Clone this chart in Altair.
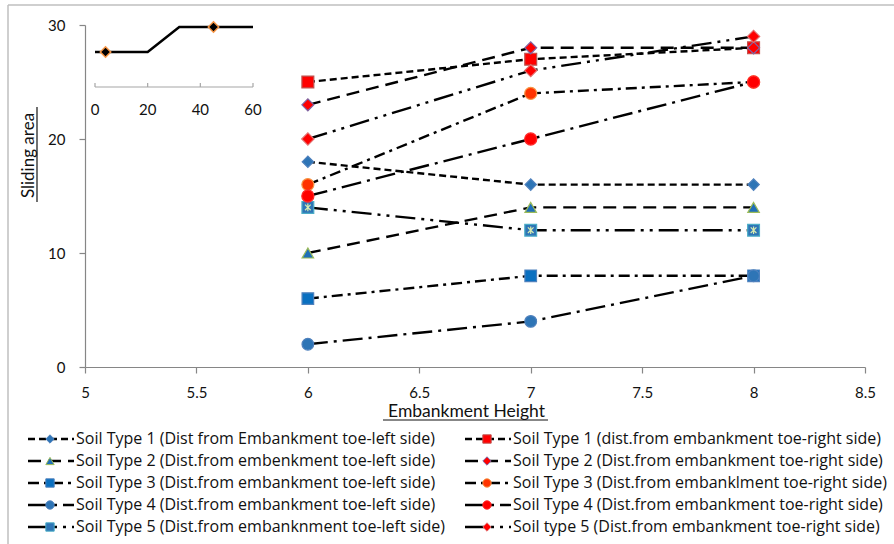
import altair as alt
import pandas as pd

# ---------------- data ----------------
heights = [6, 7, 8]
series = [
    "Soil Type 1 (Dist from Embankment toe-left side)",
    "Soil Type 2 (Dist.from embenkment toe-left side)",
    "Soil Type 3 (Dist.from embankment toe-left side)",
    "Soil Type 4 (Dist.from embankment toe-left side)",
    "Soil Type 5 (Dist.from embanknment toe-left side)",
    "Soil Type 1 (dist.from embankment toe-right side)",
    "Soil Type 2 (Dist.from embankment toe-right side)",
    "Soil Type 3 (Dist.from embanklment toe-right side)",
    "Soil Type 4 (Dist.from embankment toe-right side)",
    "Soil type 5 (Dist.from embankment toe-right side)",
]
values = [
    [18, 16, 16],
    [10, 14, 14],
    [6, 8, 8],
    [2, 4, 8],
    [14, 12, 12],
    [25, 27, 28],
    [23, 28, 28],
    [16, 24, 25],
    [15, 20, 25],
    [20, 26, 29],
]
legend_col = [0, 0, 0, 0, 0, 1, 1, 1, 1, 1]
legend_row = [0, 1, 2, 3, 4, 0, 1, 2, 3, 4]

x_ticks = [5, 5.5, 6, 6.5, 7, 7.5, 8, 8.5]
y_ticks = [0, 10, 20, 30]

# inset chart
inset_x = [0, 20, 32, 60]
inset_y = [3.5, 3.5, 6, 6]
inset_mark_x = [4, 45]
inset_mark_y = [3.5, 6]
inset_ticks = [0, 20, 40, 60]

# ---------------- styles ----------------
dashes = [
    [7, 4], [13, 7], [11, 5, 3, 5], [20, 6, 3, 6], [20, 6, 3, 6, 3, 6],
    [7, 4], [13, 7], [11, 5, 3, 5], [20, 6, 3, 6], [20, 6, 3, 6, 3, 6],
]
shapes = ["diamond", "triangle-up", "square", "circle", "square",
          "square", "diamond", "circle", "circle", "diamond"]
fills = ["#2e75b6", "#1f6fb8", "#0a70c0", "#2e75b6", "#2e75b6",
         "#ff0000", "#ff0000", "#ff3300", "#ff0000", "#ff0000"]
strokes = ["#4f81bd", "#9bbb59", "#4f81bd", "#4f81bd", "#4bacc6",
           "#c0504d", "#8064a2", "#f79646", "#ff2a2a", "#e46c6c"]
sizes = [130, 150, 140, 110, 150, 170, 140, 150, 260, 80]

rows = []
for s, vals in zip(series, values):
    for h, v in zip(heights, vals):
        rows.append({"series": s, "height": h, "area": v})
df = pd.DataFrame(rows)

leg = pd.DataFrame({"series": series, "col": legend_col, "row": legend_row})

ins_line = pd.DataFrame({"ix": inset_x, "iy": inset_y})
ins_pts = pd.DataFrame({"ix": inset_mark_x, "iy": inset_mark_y})
ins_tk = pd.DataFrame({"ix": inset_ticks, "iy": [0] * len(inset_ticks),
                       "iy2": [0.4] * len(inset_ticks),
                       "lab": [str(t) for t in inset_ticks]})
ins_axis = pd.DataFrame({"ix": [0], "ix2": [60], "iy": [0]})

FONT = "Lato"
LFONT = "Open Sans"

dash_scale = alt.Scale(domain=series, range=dashes)
shape_scale = alt.Scale(domain=series, range=shapes)
fill_scale = alt.Scale(domain=series, range=fills)
stroke_scale = alt.Scale(domain=series, range=strokes)
size_scale = alt.Scale(domain=series, range=sizes)

# ---------------- main plot ----------------
X = alt.X("height:Q",
          scale=alt.Scale(domain=[5, 8.5], nice=False, zero=False),
          axis=alt.Axis(values=x_ticks, format="~g", title="Embankment Height",
                        titleFontSize=17.5, titleFontWeight="normal",
                        titleX=381, titleY=49, titleBaseline="alphabetic",
                        titleColor="#111", labelFontSize=15, labelPadding=12,
                        labelFlush=False, tickSize=6, labelColor="#111"))
Y = alt.Y("area:Q",
          scale=alt.Scale(domain=[0, 30], nice=False),
          axis=alt.Axis(values=y_ticks, title="Sliding area",
                        titleFontSize=17, titleFontWeight="normal",
                        titleX=-52, titleY=130, titleAngle=270,
                        titleBaseline="alphabetic", titleColor="#111",
                        labelFontSize=15, labelPadding=14, tickSize=6,
                        labelFlush=False, labelColor="#111"))

lines = alt.Chart(df).mark_line(color="black", strokeWidth=2.4).encode(
    x=X, y=Y, detail="series:N",
    strokeDash=alt.StrokeDash("series:N", scale=dash_scale, legend=None),
)
points = alt.Chart(df).mark_point(filled=True, opacity=1, strokeWidth=1.2).encode(
    x=X, y=Y,
    shape=alt.Shape("series:N", scale=shape_scale, legend=None),
    fill=alt.Fill("series:N", scale=fill_scale, legend=None),
    stroke=alt.Stroke("series:N", scale=stroke_scale, legend=None),
    size=alt.Size("series:N", scale=size_scale, legend=None),
)
AST = "M-0.6,-0.6L0.6,0.6M0.6,-0.6L-0.6,0.6M0,-0.8L0,0.8"
aster = alt.Chart(df[df["series"] == series[4]]).mark_point(
    shape=AST, filled=False, stroke="#d8ecb0", strokeWidth=1.2, size=90, opacity=1
).encode(x=X, y=Y)

main = alt.layer(lines, points, aster)

# ---------------- inset ----------------
IX = alt.X("ix:Q", scale=alt.Scale(domain=[0, 60], range=[10, 168], nice=False), axis=None)
IY = alt.Y("iy:Q", scale=alt.Scale(domain=[0, 6], range=[62, 2], nice=False), axis=None)

i_axis = alt.Chart(ins_axis).mark_rule(color="#a6a6a6", strokeWidth=1.2).encode(
    x=IX, x2="ix2:Q", y=IY)
i_ticks = alt.Chart(ins_tk).mark_rule(color="#a6a6a6", strokeWidth=1.2).encode(
    x=IX, y=IY, y2="iy2:Q")
i_labels = alt.Chart(ins_tk).mark_text(dy=23, baseline="middle", fontSize=15,
                                        font=FONT, color="#111").encode(
    x=IX, y=IY, text="lab:N")
i_line = alt.Chart(ins_line).mark_line(color="black", strokeWidth=2.5).encode(x=IX, y=IY)
i_pts = alt.Chart(ins_pts).mark_point(shape="diamond", filled=True, fill="black",
                                      stroke="#f79646", strokeWidth=1.5, size=110,
                                      opacity=1).encode(x=IX, y=IY)
inset = alt.layer(i_axis, i_ticks, i_labels, i_line, i_pts)

# ---------------- legend ----------------
LX = alt.X("col:Q", scale=alt.Scale(domain=[0, 1], range=[-57, 380], nice=False), axis=None)
LY = alt.Y("row:Q", scale=alt.Scale(domain=[0, 4], range=[414, 502], nice=False), axis=None)

l_lines = alt.Chart(leg).mark_rule(color="black", strokeWidth=2.4, x2Offset=46).encode(
    x=LX, x2="col:Q", y=LY,
    strokeDash=alt.StrokeDash("series:N", scale=dash_scale, legend=None))
l_pts = alt.Chart(leg).mark_point(filled=True, opacity=1, strokeWidth=1, xOffset=22).encode(
    x=LX, y=LY,
    shape=alt.Shape("series:N", scale=shape_scale, legend=None),
    fill=alt.Fill("series:N", scale=fill_scale, legend=None),
    stroke=alt.Stroke("series:N", scale=stroke_scale, legend=None),
    size=alt.value(70))
l_text = alt.Chart(leg).mark_text(align="left", baseline="middle", dx=48,
                                  fontSize=16, font=LFONT, color="#111").encode(
    x=LX, y=LY, text="series:N")
legend = alt.layer(l_lines, l_pts, l_text)

# ---------------- decorations ----------------
frame_left = alt.Chart().mark_rule(color="#bfbfbf", strokeWidth=1.5).encode(
    x=alt.value(-77), y=alt.value(-20), y2=alt.value(519))
frame_top = alt.Chart().mark_rule(color="#bfbfbf", strokeWidth=1.5).encode(
    x=alt.value(-77), x2=alt.value(809), y=alt.value(-20))
ul_x = alt.Chart().mark_rule(color="#111", strokeWidth=1.2).encode(
    x=alt.value(298), x2=alt.value(463), y=alt.value(395))
ul_y = alt.Chart().mark_rule(color="#111", strokeWidth=1.2).encode(
    x=alt.value(-48), y=alt.value(82), y2=alt.value(177))
deco = alt.layer(frame_left, frame_top, ul_x, ul_y)

chart = alt.layer(main, inset, legend, deco).resolve_scale(
    x="independent", y="independent",
    strokeDash="independent", shape="independent", fill="independent",
    stroke="independent", size="independent",
).properties(
    width=780, height=342,
    padding={"left": 85, "top": 25, "right": 29, "bottom": 177},
    autosize=alt.AutoSizeParams(type="none"),
    background="white",
).configure_view(stroke=None).configure_axis(
    domainColor="#868686", tickColor="#868686", grid=False,
    labelFont=FONT, titleFont=FONT, domainWidth=1.2, tickWidth=1.2,
).configure_text(font=FONT)

chart.save("out.html", embed_options={"renderer": "svg", "actions": False})
